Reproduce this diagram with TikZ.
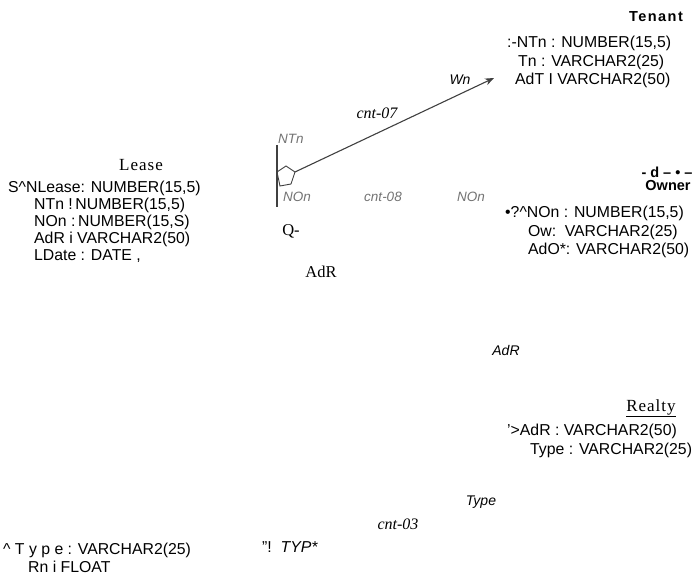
\documentclass[tikz,border=0pt]{standalone}
\usepackage{fontspec}
\setmainfont{Liberation Serif}
\setsansfont{Liberation Sans}
\newfontfamily\trackedbold[LetterSpace=10]{Liberation Sans}
\newfontfamily\trackedserif[LetterSpace=6]{Liberation Serif}
\usetikzlibrary{arrows.meta}
\begin{document}
\begin{tikzpicture}[x=1pt,y=-1pt,
  attr/.style={font=\sffamily\fontsize{15.8}{17}\selectfont, anchor=west, inner sep=0pt},
  etitle/.style={font=\trackedserif\fontsize{17}{19}\selectfont, inner sep=0pt},
  ptext/.style={font=\fontsize{16.5}{18}\selectfont, inner sep=0pt},
  btitle/.style={font=\sffamily\bfseries\fontsize{14.5}{16}\selectfont, inner sep=0pt},
  rlab/.style={font=\sffamily\itshape\fontsize{14}{16}\selectfont, inner sep=0pt},
  slab/.style={font=\itshape\fontsize{16}{18}\selectfont, inner sep=0pt},
  glab/.style={font=\sffamily\itshape\fontsize{13.5}{15}\selectfont, text=black!55, inner sep=0pt},
  conn/.style={draw=black!75, line width=1.1pt}
]
\useasboundingbox (0,0) rectangle (694,577);

% Tenant
\node[btitle, font=\trackedbold\bfseries\fontsize{14.5}{16}\selectfont] (tenant) at (656,17) {Tenant};
\node[attr] (t1) at (507,43) {:-NTn : NUMBER(15,5)};
\node[attr] (t2) at (518,62) {Tn : VARCHAR2(25)};
\node[attr] (t3) at (515,80) {AdT I VARCHAR2(50)};

% Lease
\node[etitle] (lease) at (141,165) {Lease};
\node[attr] (l1) at (8,188) {S\textasciicircum NLease: NUMBER(15,5)};
\node[attr] (l2) at (34,205) {NTn !\,NUMBER(15,5)};
\node[attr] (l3) at (34,222) {NOn :\,NUMBER(15,S)};
\node[attr] (l4) at (34,239) {AdR i VARCHAR2(50)};
\node[attr] (l5) at (34,256) {LDate : DATE ,};

% Owner
\node[btitle] (ownerdeco) at (667,172) {- d – • –};
\node[btitle] (owner) at (668,186) {Owner};
\node[attr] (o1) at (505,213) {•?\textasciicircum NOn : NUMBER(15,5)};
\node[attr] (o2) at (528,232) {Ow:\, VARCHAR2(25)};
\node[attr] (o3) at (528,250) {AdO*: VARCHAR2(50)};

% Realty
\node[etitle] (realty) at (651,408) {\underline{Realty}};
\node[attr] (r1) at (507,431) {'>AdR : VARCHAR2(50)};
\node[attr] (r2) at (530,450) {Type : VARCHAR2(25)};

% bottom-left entity
\node[attr] (b1) at (3,550) {\textasciicircum\ T y p e : VARCHAR2(25)};
\node[attr] (b2) at (28,567) {Rn i FLOAT};

% labels
\node[rlab] (wn) at (460,80) {Wn};
\node[slab] (cnt07) at (377,113) {cnt-07};
\node[glab, anchor=west] (ntn) at (278,139) {NTn};
\node[glab, anchor=west] (non1) at (283,197) {NOn};
\node[glab] (cnt08) at (383,197) {cnt-08};
\node[glab] (non2) at (471,197) {NOn};
\node[ptext] (q) at (291,231) {Q-};
\node[ptext] (adr1) at (321,272) {AdR};
\node[rlab] (adr2) at (506,351) {AdR};
\node[rlab] (type) at (481,502) {Type};
\node[slab] (cnt03) at (398,524) {cnt-03};
\node[attr, anchor=west] (typ) at (262,547) {"!\ \ \textit{TYP*}};

% connector
\coordinate (vtop) at (277,145);
\coordinate (vbot) at (277,207);
\coordinate (pstart) at (295,172);
\coordinate (tip) at (494,78);
\draw[conn] (vtop) -- (vbot);
\draw[draw=black!75, line width=0.9pt] (277,172) -- (286,166) -- (295,172) -- (291,184) -- (280,186) -- cycle;
\draw[conn, -{Stealth[length=9pt,width=7pt]}] (pstart) -- (tip);
\end{tikzpicture}
\end{document}
